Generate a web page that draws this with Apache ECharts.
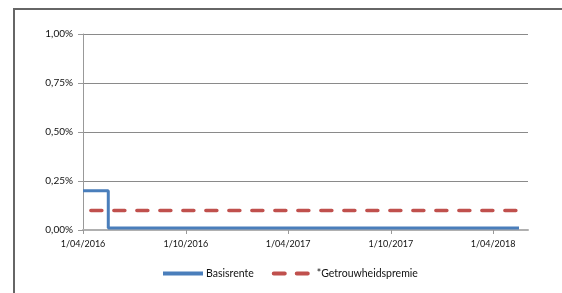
<!DOCTYPE html>
<html>
<head>
<meta charset="utf-8">
<script src="https://cdn.jsdelivr.net/npm/echarts@6/dist/echarts.min.js"></script>
<style>
	html, body { margin: 0; padding: 0; background: #fff; }
	#chart { width: 562px; height: 293px; }
</style>
</head>
<body>
<div id="chart"></div>
<script>
	// data (percent values)
	var basisDates = ['2016-04-01', '2016-05-16', '2016-05-16', '2018-05-17'];
	var basisValues = [0.20, 0.20, 0.01, 0.01];
	var premieDates = ['2016-04-15', '2018-05-17'];
	var premieValues = [0.10, 0.10];
	var tickDates = ['2016-04-01', '2016-10-01', '2017-04-01', '2017-10-01', '2018-04-01'];
	var tickLabels = ['1/04/2016', '1/10/2016', '1/04/2017', '1/10/2017', '1/04/2018'];
	var axisStart = '2016-04-01';
	var axisEnd = '2018-06-02';

	// days since axis start
	function day(s) {
		return Math.round((Date.parse(s) - Date.parse(axisStart)) / 86400000);
	}
	function pairs(dates, values) {
		var out = [];
		for (var i = 0; i < dates.length; i++) {
			out.push([day(dates[i]), values[i]]);
		}
		return out;
	}
	var tickDays = tickDates.map(day);

	var font = 'Lato, "Open Sans", sans-serif';
	var myChart = echarts.init(document.getElementById('chart'));
	myChart.setOption({
		animation: false,
		graphic: [{
			type: 'rect',
			shape: { x: 14, y: 9, width: 700, height: 500 },
			style: { fill: 'none', stroke: '#666', lineWidth: 2 },
			silent: true
		}],
		grid: { left: 83, right: 34, top: 34, bottom: 63 },
		legend: {
			top: 263,
			left: 156,
			itemWidth: 40,
			itemHeight: 4,
			itemGap: 18,
			itemStyle: { opacity: 0 },
			lineStyle: { width: 4 },
			textStyle: { fontFamily: font, fontSize: 10.5, color: '#111', padding: [0, 0, 0, -2] },
			data: ['Basisrente', '*Getrouwheidspremie']
		},
		xAxis: {
			type: 'value',
			min: 0,
			max: day(axisEnd),
			splitLine: { show: false },
			axisLine: { lineStyle: { color: '#b0b0b0', width: 2 } },
			axisTick: {
				show: true,
				length: 4,
				customValues: tickDays,
				lineStyle: { color: '#999' }
			},
			axisLabel: {
				customValues: tickDays,
				fontFamily: font,
				fontSize: 9,
				color: '#111',
				margin: 10,
				formatter: function (v) {
					var i = tickDays.indexOf(v);
					return i >= 0 ? tickLabels[i] : '';
				}
			}
		},
		yAxis: {
			type: 'value',
			min: 0,
			max: 1,
			interval: 0.25,
			axisLine: { show: true, lineStyle: { color: '#999' } },
			axisTick: { show: true, length: 5, lineStyle: { color: '#999' } },
			splitLine: { lineStyle: { color: '#8a8a8a' } },
			axisLabel: {
				fontFamily: font,
				fontSize: 10,
				color: '#111',
				margin: 10,
				formatter: function (v) {
					return v.toFixed(2).replace('.', ',') + '%';
				}
			}
		},
		series: [{
			name: 'Basisrente',
			type: 'line',
			data: pairs(basisDates, basisValues),
			symbol: 'none',
			lineStyle: { color: '#4a7ebb', width: 3 },
			itemStyle: { color: '#4a7ebb' }
		}, {
			name: '*Getrouwheidspremie',
			type: 'line',
			data: pairs(premieDates, premieValues),
			symbol: 'none',
			lineStyle: { color: '#c0504d', width: 3.5, type: [11, 12], cap: 'round' },
			itemStyle: { color: '#c0504d' }
		}]
	});
</script>
</body>
</html>
